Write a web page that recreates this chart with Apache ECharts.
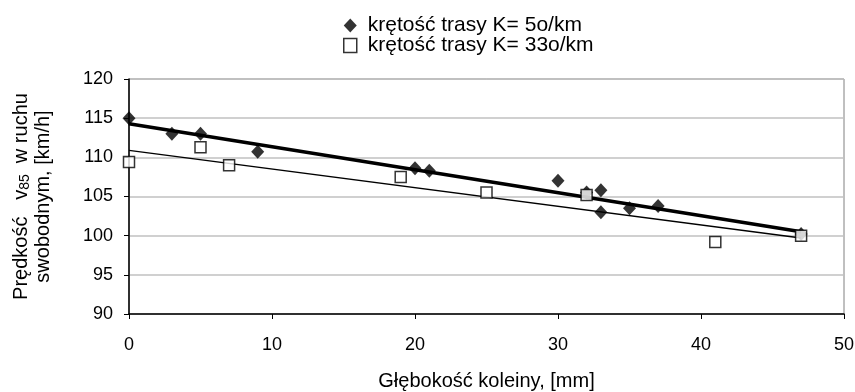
<!DOCTYPE html>
<html>
<head>
<meta charset="utf-8">
<script src="https://cdn.jsdelivr.net/npm/echarts@6/dist/echarts.min.js"></script>
<style>
  html, body { margin: 0; padding: 0; background: #fff; }
  #chart { width: 855px; height: 392px; }
</style>
</head>
<body>
<div id="chart"></div>
<script>
// K = 5o/km (diamonds)
var depthK5 = [0, 3, 5, 9, 20, 21, 30, 32, 33, 33, 35, 37, 47];
var speedK5 = [115, 113, 113, 110.7, 108.6, 108.3, 107, 105.5, 105.8, 103, 103.5, 103.8, 100.2];
// K = 33o/km (squares)
var depthK33 = [0, 5, 7, 19, 25, 32, 41, 47];
var speedK33 = [109.4, 111.3, 109, 107.5, 105.5, 105.2, 99.2, 100];
// linear trend ends
var trendX = [0, 47];
var trendK5 = [114.3, 100.5];
var trendK33 = [110.9, 99.7];

var xTicks = [0, 10, 20, 30, 40, 50];
var yTicks = [90, 95, 100, 105, 110, 115, 120];

function pairs(xs, ys) {
    var out = [];
    for (var i = 0; i < xs.length; i++) out.push([xs[i], ys[i]]);
    return out;
}

var font = 'Liberation Sans, Arial, sans-serif';
var myChart = echarts.init(document.getElementById('chart'));

var option = {
    animation: false,
    backgroundColor: '#fff',
    textStyle: { fontFamily: font },
    legend: {
        orient: 'vertical',
        left: 338,
        top: 10,
        itemGap: -1,
        itemWidth: 13,
        itemHeight: 14,
        textStyle: { fontFamily: font, fontSize: 21, color: '#000', padding: [0, 0, 0, 6] },
        data: [
            { name: 'krętość trasy K= 5o/km', icon: 'diamond', itemStyle: { color: '#000' } },
            { name: 'krętość trasy K= 33o/km', icon: 'rect', itemStyle: { color: '#fff', borderColor: '#000', borderWidth: 1.5 } }
        ]
    },
    grid: {
        left: 129,
        right: 11,
        top: 79,
        bottom: 78,
        outerBoundsMode: 'none',
        containLabel: false,
        show: true,
        borderColor: '#808080',
        borderWidth: 1
    },
    xAxis: {
        type: 'value',
        min: xTicks[0],
        max: xTicks[xTicks.length - 1],
        interval: 10,
        name: 'Głębokość koleiny, [mm]',
        nameLocation: 'middle',
        nameGap: 57,
        nameTextStyle: { fontFamily: font, fontSize: 20, color: '#000' },
        axisLine: { lineStyle: { color: '#000', width: 1.5 } },
        axisTick: { show: true, length: 5, lineStyle: { color: '#000' } },
        axisLabel: { fontFamily: font, fontSize: 18, color: '#000', margin: 22 },
        splitLine: { show: false }
    },
    yAxis: {
        type: 'value',
        min: yTicks[0],
        max: yTicks[yTicks.length - 1],
        interval: 5,
        name: '{a|Prędkość   v}{sub|85}{a|  w ruchu}\n{a|swobodnym, [km/h]}',
        nameLocation: 'middle',
        nameGap: 75,
        nameRotate: 90,
        nameTextStyle: {
            fontFamily: font, fontSize: 20, color: '#000',
            rich: {
                a: { fontFamily: font, fontSize: 20, color: '#000', lineHeight: 22 },
                sub: { fontFamily: font, fontSize: 14, color: '#000', lineHeight: 22, verticalAlign: 'bottom', padding: [7, 0, 0, 0] }
            }
        },
        axisLine: { show: true, lineStyle: { color: '#000', width: 1.5 } },
        axisTick: { show: true, length: 5, lineStyle: { color: '#000' } },
        axisLabel: { fontFamily: font, fontSize: 18, color: '#000', margin: 16 },
        splitLine: { show: true, lineStyle: { color: '#c0c0c0', width: 1.5 } }
    },
    series: [
        {
            type: 'line',
            data: pairs(trendX, trendK5),
            showSymbol: false,
            silent: true,
            lineStyle: { color: '#000', width: 3.5 },
            z: 1
        },
        {
            type: 'line',
            data: pairs(trendX, trendK33),
            showSymbol: false,
            silent: true,
            lineStyle: { color: '#000', width: 1.3 },
            z: 1
        },
        {
            name: 'krętość trasy K= 5o/km',
            type: 'scatter',
            symbol: 'diamond',
            symbolSize: [13, 14],
            itemStyle: { color: '#000' },
            data: pairs(depthK5, speedK5),
            z: 2
        },
        {
            name: 'krętość trasy K= 33o/km',
            type: 'scatter',
            symbol: 'rect',
            symbolSize: 11,
            itemStyle: { color: '#fff', borderColor: '#000', borderWidth: 1.5 },
            data: pairs(depthK33, speedK33),
            z: 3
        }
    ]
};
myChart.setOption(option);
</script>
</body>
</html>
